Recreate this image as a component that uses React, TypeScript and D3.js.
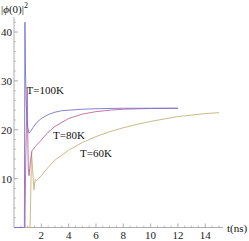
import React from "react";
import * as d3 from "d3";

const blueT = [0, 0.76, 0.8, 0.84, 0.9, 1.0, 1.1, 1.2, 1.4, 1.7, 2.0, 2.5, 3.0, 3.5, 4.0, 5.0, 6.0, 8.0, 10.0, 12.0];
const blueV = [0, 0, 42, 32, 25, 20.5, 19.3, 19.6, 20.5, 21.6, 22.3, 23.1, 23.6, 23.9, 24.0, 24.2, 24.3, 24.4, 24.4, 24.4];

const purpleT = [0, 0.8, 0.86, 0.97, 1.0, 1.05, 1.1, 1.2, 1.32, 1.6, 1.9, 2.5, 3.0, 4.0, 5.0, 6.0, 7.0, 8.0, 10.0, 12.0];
const purpleV = [0, 0, 14, 28.5, 20, 12, 10.6, 13.5, 15.7, 16.7, 17.6, 19.5, 20.7, 22.3, 23.2, 23.7, 24.0, 24.2, 24.35, 24.4];

const yellowT = [0, 1.18, 1.28, 1.36, 1.46, 1.56, 1.66, 2.0, 2.5, 3.0, 4.0, 5.0, 6.0, 7.0, 8.0, 9.0, 10.0, 11.0, 12.0, 13.0, 14.0, 15.0];
const yellowV = [0, 0, 15.5, 12, 7.7, 9.9, 9.6, 10.6, 12.3, 13.8, 15.8, 17.4, 18.6, 19.6, 20.4, 21.1, 21.7, 22.2, 22.7, 23.0, 23.3, 23.5];

const xTicks = [2, 4, 6, 8, 10, 12, 14];
const yTicks = [10, 20, 30, 40];
const labels = ["T=100K", "T=80K", "T=60K"];

export default function App() {
  const W = 249, H = 241;
  const x = d3.scaleLinear().domain([0, 15.3]).range([14, 223]);
  const y = d3.scaleLinear().domain([0, 40]).range([227.5, 32]);
  const mk = (ts: number[], vs: number[]) =>
    d3.line<number>().x((d) => x(ts[d])).y((d) => y(vs[d]))(ts.map((_, i) => i)) || "";
  const xMinor = d3.range(0.5, 15.01, 0.5).filter((v) => !xTicks.includes(v));
  const yMinor = d3.range(2, 42.1, 2).filter((v) => !yTicks.includes(v));
  const axisColor = "#999";
  const font = "Liberation Serif, DejaVu Serif, serif";
  const ts: React.CSSProperties = { fontFamily: font, fontSize: 11 };
  return (
    <svg width={W} height={H} style={{ position: "absolute", left: 0, top: 0 }}>
      <rect width={W} height={H} fill="white" />
      <line x1={x(0)} x2={x(0)} y1={y(0)} y2={y(43)} stroke={axisColor} strokeWidth={0.8} />
      <line x1={x(0)} x2={x(15.3)} y1={y(0)} y2={y(0)} stroke={axisColor} strokeWidth={0.8} />
      {yTicks.map((t) => (
        <g key={"yt" + t}>
          <line x1={x(0)} x2={x(0) + 4} y1={y(t)} y2={y(t)} stroke={axisColor} strokeWidth={0.8} />
          <text x={12} y={y(t) + 4} style={ts} textAnchor="end" fill="#222">{t}</text>
        </g>
      ))}
      {yMinor.map((t) => (
        <line key={"ym" + t} x1={x(0)} x2={x(0) + 2} y1={y(t)} y2={y(t)} stroke={axisColor} strokeWidth={0.6} />
      ))}
      {xTicks.map((t) => (
        <g key={"xt" + t}>
          <line x1={x(t)} x2={x(t)} y1={y(0)} y2={y(0) - 4} stroke={axisColor} strokeWidth={0.8} />
          <text x={x(t)} y={239} style={ts} textAnchor="middle" fill="#222">{t}</text>
        </g>
      ))}
      {xMinor.map((t) => (
        <line key={"xm" + t} x1={x(t)} x2={x(t)} y1={y(0)} y2={y(0) - 2} stroke={axisColor} strokeWidth={0.6} />
      ))}
      <path d={mk(yellowT, yellowV)} fill="none" stroke="#c4b27c" strokeWidth={0.9} />
      <path d={mk(purpleT, purpleV)} fill="none" stroke="#c0649c" strokeWidth={0.9} />
      <path d={mk(blueT, blueV)} fill="none" stroke="#7474d4" strokeWidth={0.9} />
      <text x={26.5} y={94} style={ts} fill="#111">{labels[0]}</text>
      <text x={53} y={139} style={ts} fill="#111">{labels[1]}</text>
      <text x={80} y={157} style={ts} fill="#111">{labels[2]}</text>
      <text x={1} y={13} style={ts} fill="#111">
        |<tspan fontStyle="italic">ϕ</tspan>(0)|<tspan dy={-5} fontSize={8}>2</tspan>
      </text>
      <text x={227} y={232} style={ts} fill="#111">t(ns)</text>
    </svg>
  );
}
